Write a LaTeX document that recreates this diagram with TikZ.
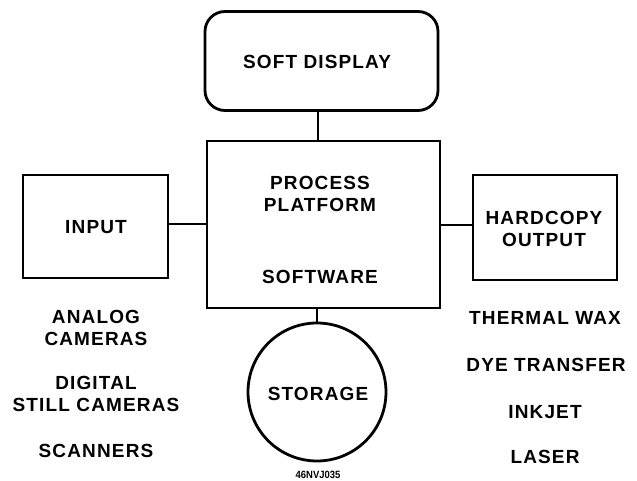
\documentclass[tikz,border=0pt]{standalone}
\usepackage{fontspec}
\setmainfont{Liberation Sans}[LetterSpace=6]
\newfontfamily\tagfont{Liberation Sans}[FakeStretch=0.9]
\begin{document}
\begin{tikzpicture}[x=1pt,y=-1pt,
  box/.style={draw, line width=2.8pt, inner sep=0pt},
  lbl/.style={font=\bfseries\fontsize{19}{22.5}\selectfont, align=center, inner sep=0pt},
  conn/.style={line width=2.8pt}]
\useasboundingbox (0,0) rectangle (637,481);
% boxes
\node[box, rounded corners=20pt, minimum width=233pt, minimum height=99pt] (soft) at (321.5,61) {};
\node[box, minimum width=233pt, minimum height=167pt] (proc) at (323.5,224.5) {};
\node[box, minimum width=145pt, minimum height=103pt] (inp) at (95.5,226.5) {};
\node[box, minimum width=144pt, minimum height=105pt] (hard) at (545,227.5) {};
\node[box, circle, minimum size=138pt] (stor) at (317,392) {};
% connectors
\coordinate (pt) at (318,141);
\draw[conn] (soft.south -| pt) -- (pt);
\coordinate (pl) at (207,224);
\draw[conn] (inp.east |- pl) -- (proc.west |- pl);
\coordinate (pr) at (440,225);
\draw[conn] (proc.east |- pr) -- (hard.west |- pr);
\coordinate (pb) at (317,308);
\draw[conn] (pb) -- (stor.north);
% labels
\node[lbl] (tsoft) at (317,62) {SOFT DISPLAY};
\node[lbl] (tproc) at (320,194) {PROCESS\\PLATFORM};
\node[lbl] (tsw) at (320,277) {SOFTWARE};
\node[lbl] (tinp) at (96,227) {INPUT};
\node[lbl] (thard) at (544,229) {HARDCOPY\\OUTPUT};
\node[lbl] (tstor) at (318,394) {STORAGE};
\node[lbl] (ta) at (96,328) {ANALOG\\CAMERAS};
\node[lbl] (td) at (96,394) {DIGITAL\\STILL CAMERAS};
\node[lbl] (ts) at (96,451) {SCANNERS};
\node[lbl] (r1) at (545,318) {THERMAL WAX};
\node[lbl] (r2) at (546,365) {DYE TRANSFER};
\node[lbl] (r3) at (545,412) {INKJET};
\node[lbl] (r4) at (545,457) {LASER};
\node[inner sep=0pt, font=\tagfont\bfseries\fontsize{10.5}{12}\selectfont] (tag) at (318,475) {46NVJ035};
\end{tikzpicture}
\end{document}
